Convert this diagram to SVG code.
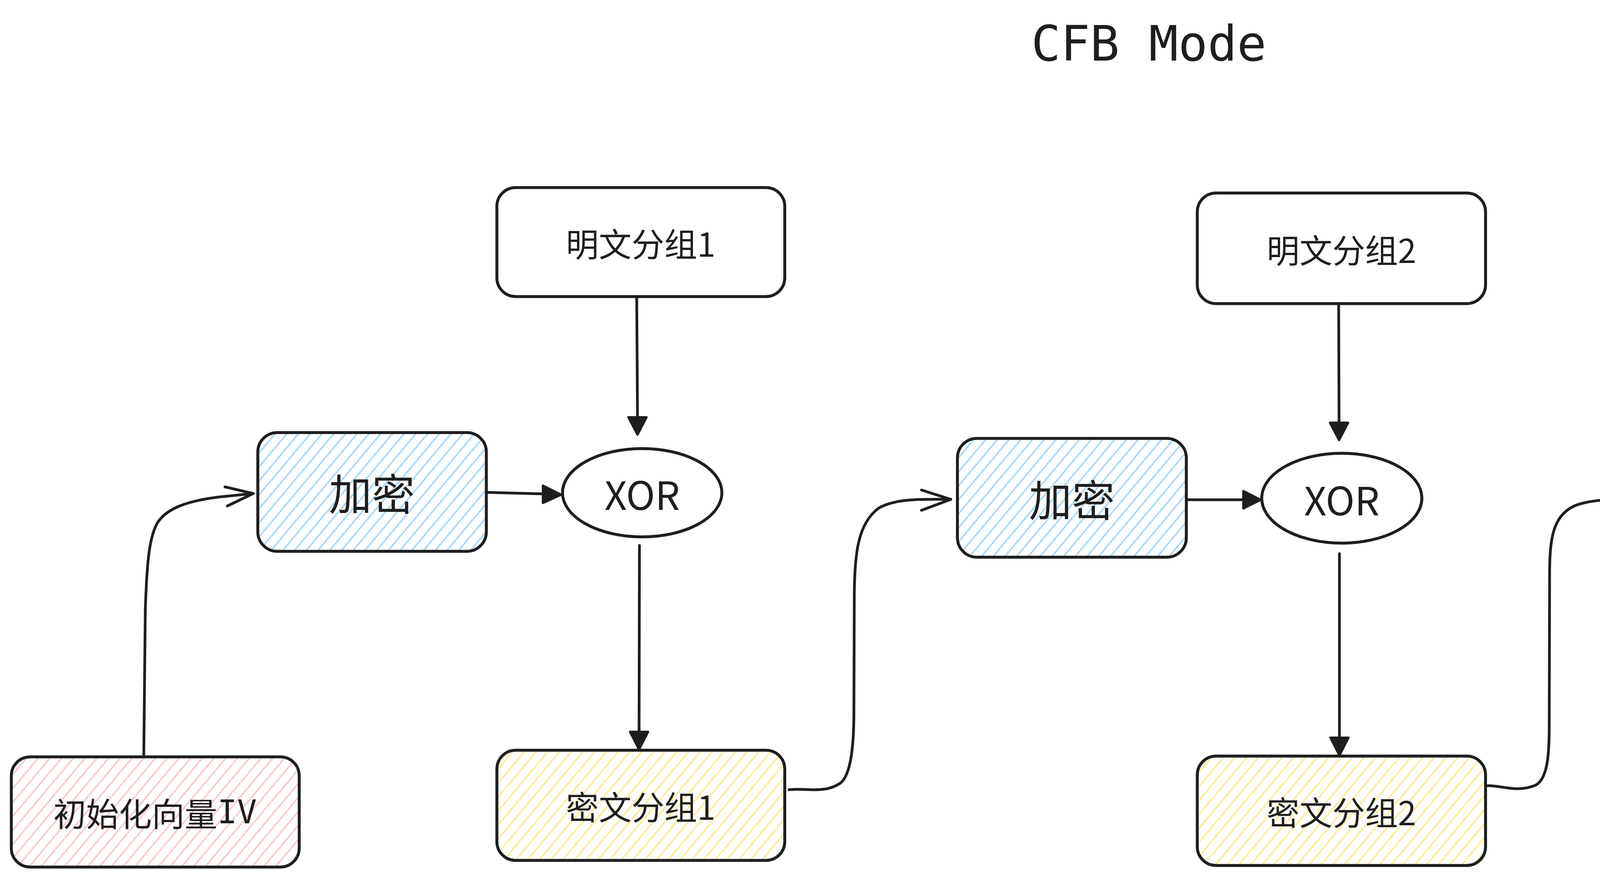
<svg xmlns="http://www.w3.org/2000/svg" width="5612" height="2247" viewBox="0 0 5612 2247">
<defs>
<pattern id="hb" patternUnits="userSpaceOnUse" width="23" height="20" patternTransform="rotate(40)"><line x1="11" y1="-5" x2="11" y2="25" stroke="#a5d8ff" stroke-width="4"/></pattern>
<pattern id="hy" patternUnits="userSpaceOnUse" width="23" height="20" patternTransform="rotate(40)"><line x1="11" y1="-5" x2="11" y2="25" stroke="#ffec99" stroke-width="4"/></pattern>
<pattern id="hp" patternUnits="userSpaceOnUse" width="23" height="20" patternTransform="rotate(40)"><line x1="11" y1="-5" x2="11" y2="25" stroke="#ffc9c9" stroke-width="4"/></pattern>
</defs>
<style>
.box{stroke:#1e1e1e;stroke-width:7.5;fill:none;stroke-linejoin:round}
.lbl{font-family:"Noto Sans CJK SC","Noto Sans",sans-serif;font-size:84px;fill:#1e1e1e;text-anchor:middle;dominant-baseline:central}
.big{font-size:110px}
.xor{font-size:100px}
.mono{font-family:"DejaVu Sans Mono",monospace}
.ln{stroke:#1e1e1e;stroke-width:7;fill:none;stroke-linecap:round;stroke-linejoin:round}
.tri{fill:#1e1e1e;stroke:#1e1e1e;stroke-width:6;stroke-linejoin:round}
</style>
<rect width="5612" height="2247" fill="#ffffff"/>
<text x="2941" y="155" font-family="DejaVu Sans Mono, monospace" font-size="125" fill="#1e1e1e" text-anchor="middle">CFB Mode</text>

<g id="connectors">
<path class="ln" d="M1630 762 L1632 1070"/><polygon class="tri" points="1609,1068 1655,1068 1632,1112"/>
<path class="ln" d="M1247 1260 L1392 1264"/><polygon class="tri" points="1390,1243 1390,1287 1436,1266"/>
<path class="ln" d="M1637 1396 L1636 1874"/><polygon class="tri" points="1613,1873 1659,1873 1636,1918"/>
<path class="ln" d="M3427 779 L3428 1082"/><polygon class="tri" points="3405,1082 3451,1082 3428,1126"/>
<path class="ln" d="M3040 1279 L3184 1279"/><polygon class="tri" points="3183,1257 3183,1301 3227,1279"/>
<path class="ln" d="M3429 1417 L3429 1888"/><polygon class="tri" points="3406,1888 3452,1888 3429,1933"/>
<path class="ln" d="M5200 777 L5202 1084"/><polygon class="tri" points="5179,1084 5225,1084 5202,1128"/>
<path class="ln" d="M4821 1273 L4956 1276"/><polygon class="tri" points="4956,1255 4956,1299 5000,1277"/>
<path class="ln" d="M5208 1416 L5207 1886"/><polygon class="tri" points="5184,1886 5230,1886 5207,1931"/>
<path class="ln" d="M368 1937 L372 1560 C376 1440 382 1370 405 1335 C430 1300 480 1282 560 1272 L648 1263"/>
<path class="ln" d="M576 1246 L648 1263 L582 1295"/>
<path class="ln" d="M2020 2021 C2060 2016 2110 2032 2150 2005 C2180 1985 2186 1900 2186 1820 L2187 1520 C2188 1420 2195 1340 2250 1300 C2290 1277 2350 1277 2434 1278"/>
<path class="ln" d="M2359 1254 L2434 1278 L2359 1306"/>
<path class="ln" d="M3803 2011 C3840 2008 3880 2030 3930 2010 C3962 1995 3966 1930 3966 1860 L3967 1460 C3968 1380 3975 1320 4030 1295 C4070 1278 4130 1277 4213 1277"/>
<path class="ln" d="M4142 1252 L4213 1277 L4142 1304"/>
</g>

<g id="plain1"><rect class="box" x="1272" y="480" width="737" height="279" rx="48"/><text class="lbl" x="1640" y="620">明文分组1</text></g>
<g id="plain2"><rect class="box" x="3065" y="494" width="738" height="283" rx="48"/><text class="lbl" x="3434" y="636">明文分组2</text></g>
<g id="plain3"><rect class="box" x="4846" y="496" width="738" height="280" rx="48"/><text class="lbl" x="5215" y="636">明文分组3</text></g>

<g id="enc1"><rect x="660" y="1107" width="585" height="304" rx="50" fill="url(#hb)"/><rect class="box" x="660" y="1107" width="585" height="304" rx="50"/><text class="lbl big" x="952" y="1258">加密</text></g>
<g id="enc2"><rect x="2451" y="1122" width="586" height="304" rx="50" fill="url(#hb)"/><rect class="box" x="2451" y="1122" width="586" height="304" rx="50"/><text class="lbl big" x="2744" y="1274">加密</text></g>
<g id="enc3"><rect x="4232" y="1124" width="587" height="305" rx="50" fill="url(#hb)"/><rect class="box" x="4232" y="1124" width="587" height="305" rx="50"/><text class="lbl big" x="4525" y="1276">加密</text></g>

<g id="xor1"><ellipse class="box" cx="1644" cy="1261" rx="204" ry="113"/><text class="lbl xor" x="1644" y="1261">XOR</text></g>
<g id="xor2"><ellipse class="box" cx="3435" cy="1275" rx="205" ry="115"/><text class="lbl xor" x="3435" y="1275">XOR</text></g>
<g id="xor3"><ellipse class="box" cx="5217" cy="1277" rx="202" ry="113"/><text class="lbl xor" x="5217" y="1277">XOR</text></g>

<g id="iv"><rect x="29" y="1937" width="737" height="282" rx="48" fill="url(#hp)"/><rect class="box" x="29" y="1937" width="737" height="282" rx="48"/><text class="lbl" x="397" y="2078">初始化向量<tspan class="mono">IV</tspan></text></g>
<g id="cipher1"><rect x="1272" y="1920" width="737" height="282" rx="48" fill="url(#hy)"/><rect class="box" x="1272" y="1920" width="737" height="282" rx="48"/><text class="lbl" x="1640" y="2061">密文分组1</text></g>
<g id="cipher2"><rect x="3065" y="1935" width="738" height="280" rx="48" fill="url(#hy)"/><rect class="box" x="3065" y="1935" width="738" height="280" rx="48"/><text class="lbl" x="3434" y="2075">密文分组2</text></g>
<g id="cipher3"><rect x="4846" y="1934" width="738" height="281" rx="48" fill="url(#hy)"/><rect class="box" x="4846" y="1934" width="738" height="281" rx="48"/><text class="lbl" x="5215" y="2075">密文分组3</text></g>
</svg>
